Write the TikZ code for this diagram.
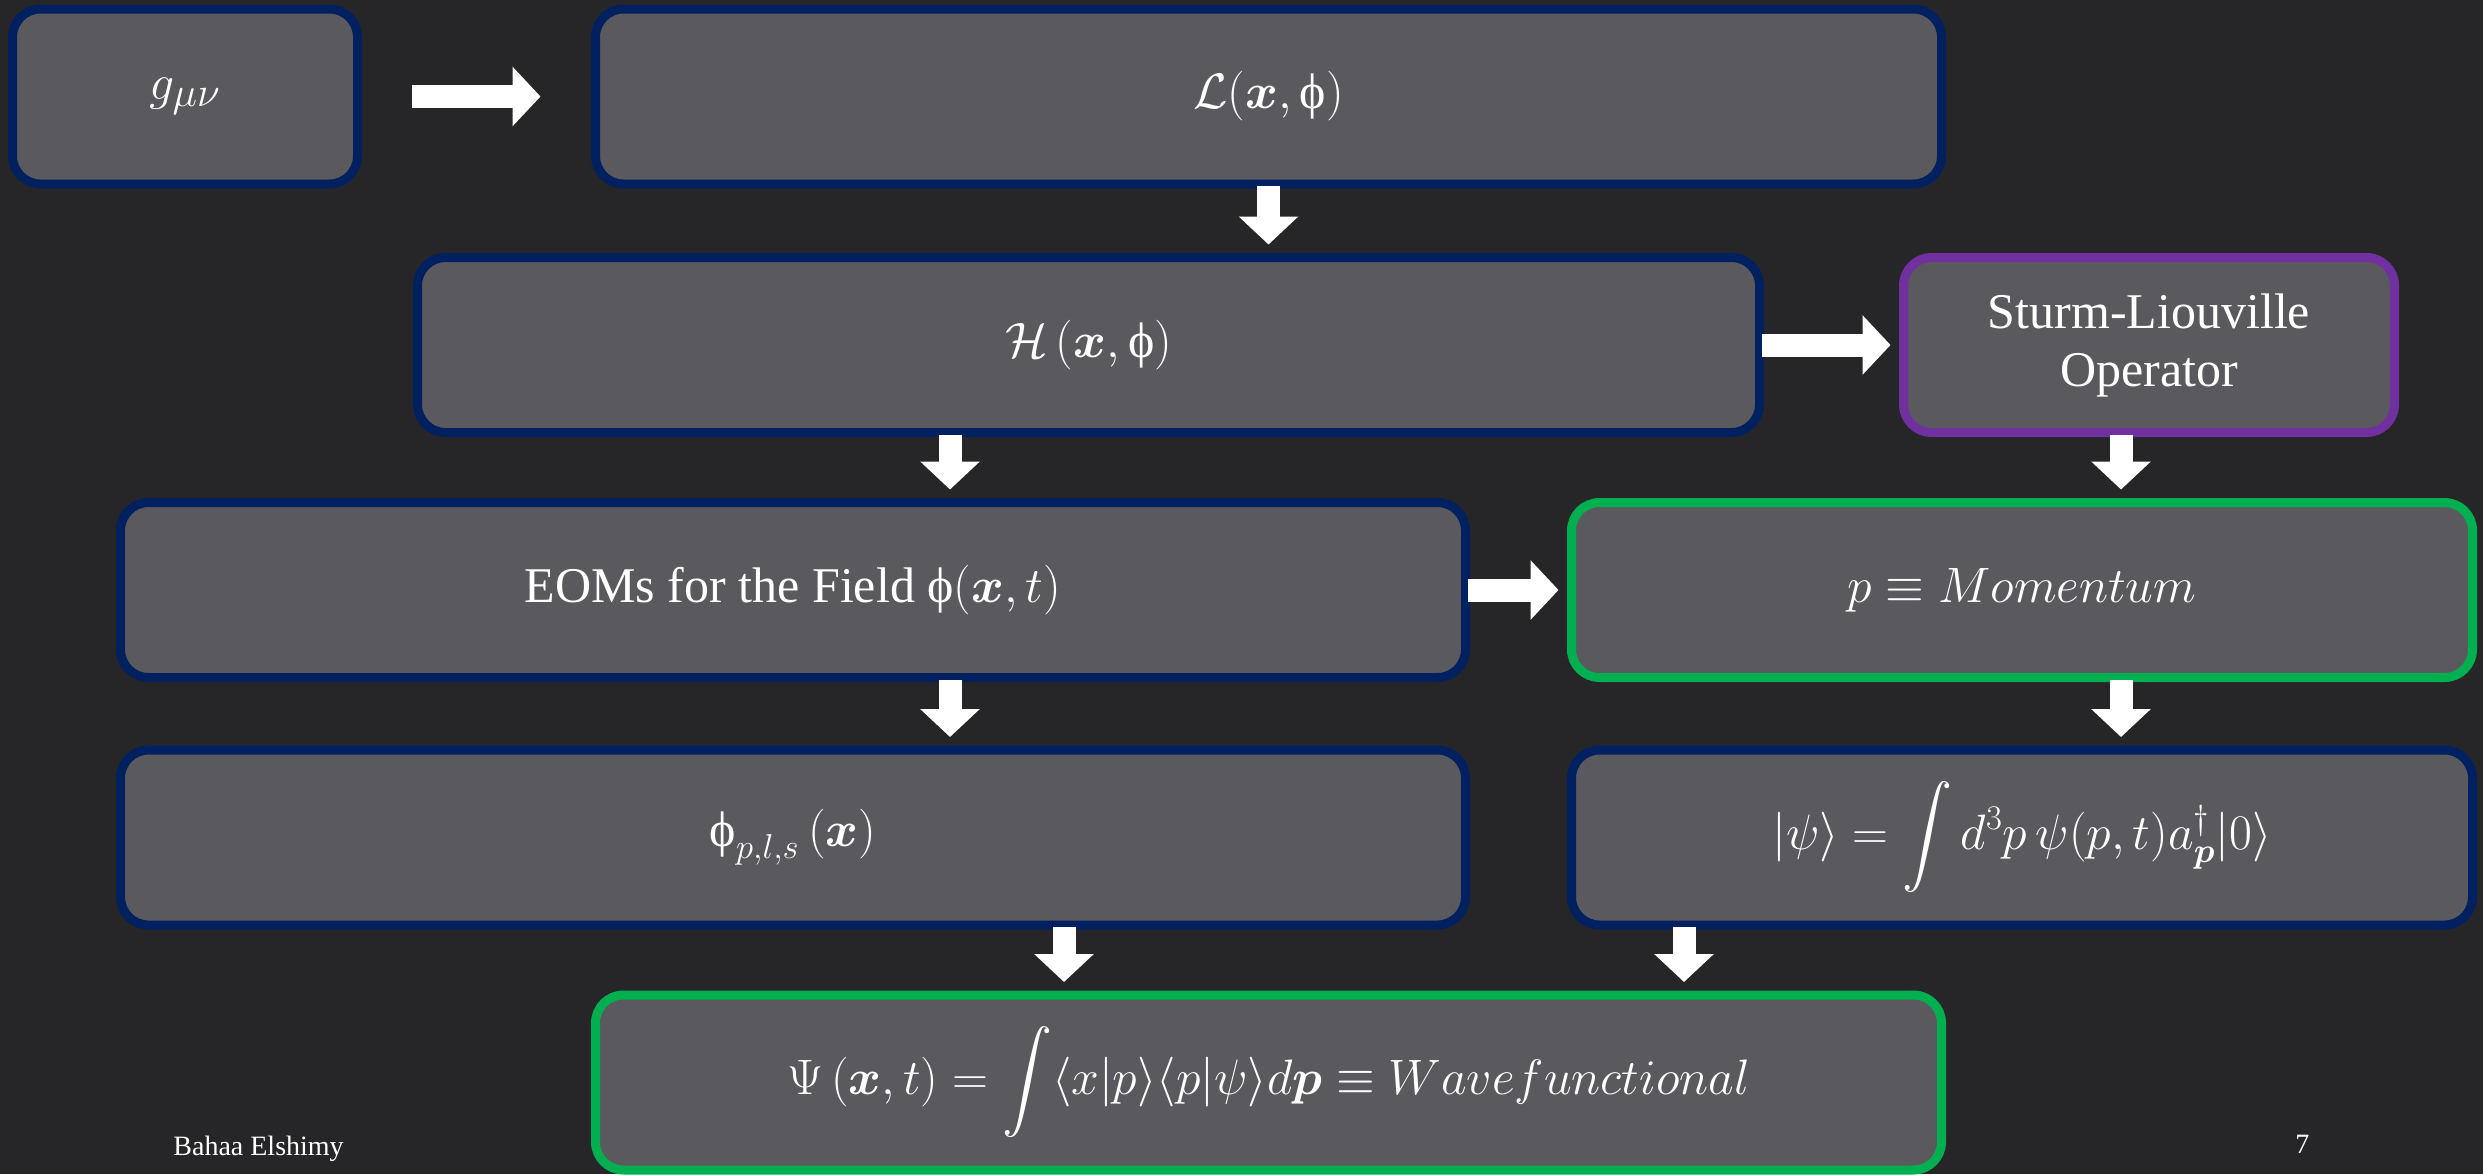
\documentclass[tikz,border=0pt]{standalone}
\usepackage{amsmath,amssymb}
\usepackage{fontspec}
\setmainfont{Liberation Serif}
\newfontfamily\phifont{Liberation Serif}
\usetikzlibrary{arrows.meta}
\definecolor{bg}{HTML}{262628}
\definecolor{boxfill}{HTML}{5A595E}
\definecolor{navy}{HTML}{002060}
\definecolor{pgreen}{HTML}{00B050}
\definecolor{ppurple}{HTML}{7030A0}
\newcommand\uphi{\text{\phifont ϕ}}
\begin{document}
\begin{tikzpicture}[x=0.5pt,y=-0.5pt,
 box/.style={draw=navy, fill=boxfill, line width=4.5pt, rounded corners=14pt, minimum height=87.5pt, inner sep=0pt, text=white, font=\fontsize{25}{29}\selectfont, align=center},
 greenbox/.style={box, draw=pgreen},
 purplebox/.style={box, draw=ppurple},
 blk/.style={draw=white, line width=11.5pt, -{Triangle[length=14pt,width=29pt]}, shorten >=4.25pt, shorten <=-1.25pt},
 foot/.style={text=white, font=\fontsize{14}{16}\selectfont, inner sep=0pt, anchor=base west}]
\fill[bg] (0,0) rectangle (2483,1174);
\useasboundingbox (0,0) rectangle (2483,1174);

\node[box, minimum width=172.5pt, font=\fontsize{29}{33}\selectfont] (g) at (185,96.5) {$g_{\mu\nu}$};
\node[box, minimum width=673pt] (L) at (1268.5,96.5) {$\mathcal{L}(\boldsymbol{x},\uphi)$};
\node[box, minimum width=671pt] (H) at (1088.5,345) {$\mathcal{H}\,(\boldsymbol{x},\uphi)$};
\node[purplebox, minimum width=245.5pt] (SL) at (2149,345) {Sturm-Liouville\\Operator};
\node[box, minimum width=672.5pt] (EOM) at (793,590) {EOMs for the Field $\uphi(\boldsymbol{x},t)$};
\node[greenbox, minimum width=450.5pt] (P) at (2022,590) {$p\equiv Momentum$};
\node[box, minimum width=672.5pt] (PHI) at (793,837.5) {$\uphi_{p,l,s}\,(\boldsymbol{x})$};
\node[box, minimum width=450.5pt] (PSI) at (2022,837.5) {$|\psi\rangle=\displaystyle\int d^3p\,\psi(p,t)a^\dagger_{\boldsymbol{p}}|0\rangle$};
\node[greenbox, minimum width=673pt] (WF) at (1268.5,1082.5) {$\Psi\,(\boldsymbol{x},t)=\displaystyle\int\langle x|p\rangle\langle p|\psi\rangle d\boldsymbol{p}\equiv Wavefunctional$};

\coordinate (x1) at (950,0);
\coordinate (x2) at (2121,0);
\coordinate (x4) at (1064,0);
\coordinate (x5) at (1684,0);

\draw[blk, shorten <=24.75pt, shorten >=25.25pt] (g.east) -- (L.west);
\draw[blk] (L.south) -- (L.south |- H.north);
\draw[blk] (H.south -| x1) -- (EOM.north -| x1);
\draw[blk] (H.east) -- (SL.west);
\draw[blk] (SL.south -| x2) -- (P.north -| x2);
\draw[blk] (EOM.east) -- (P.west);
\draw[blk] (EOM.south -| x1) -- (PHI.north -| x1);
\draw[blk] (P.south -| x2) -- (PSI.north -| x2);
\draw[blk] (PHI.south -| x4) -- (WF.north -| x4);
\draw[blk] (PSI.south -| x5) -- (WF.north -| x5);

\node[foot] (author) at (173,1155) {Bahaa Elshimy};
\node[foot] (pagenum) at (2295,1153) {7};
\end{tikzpicture}
\end{document}
